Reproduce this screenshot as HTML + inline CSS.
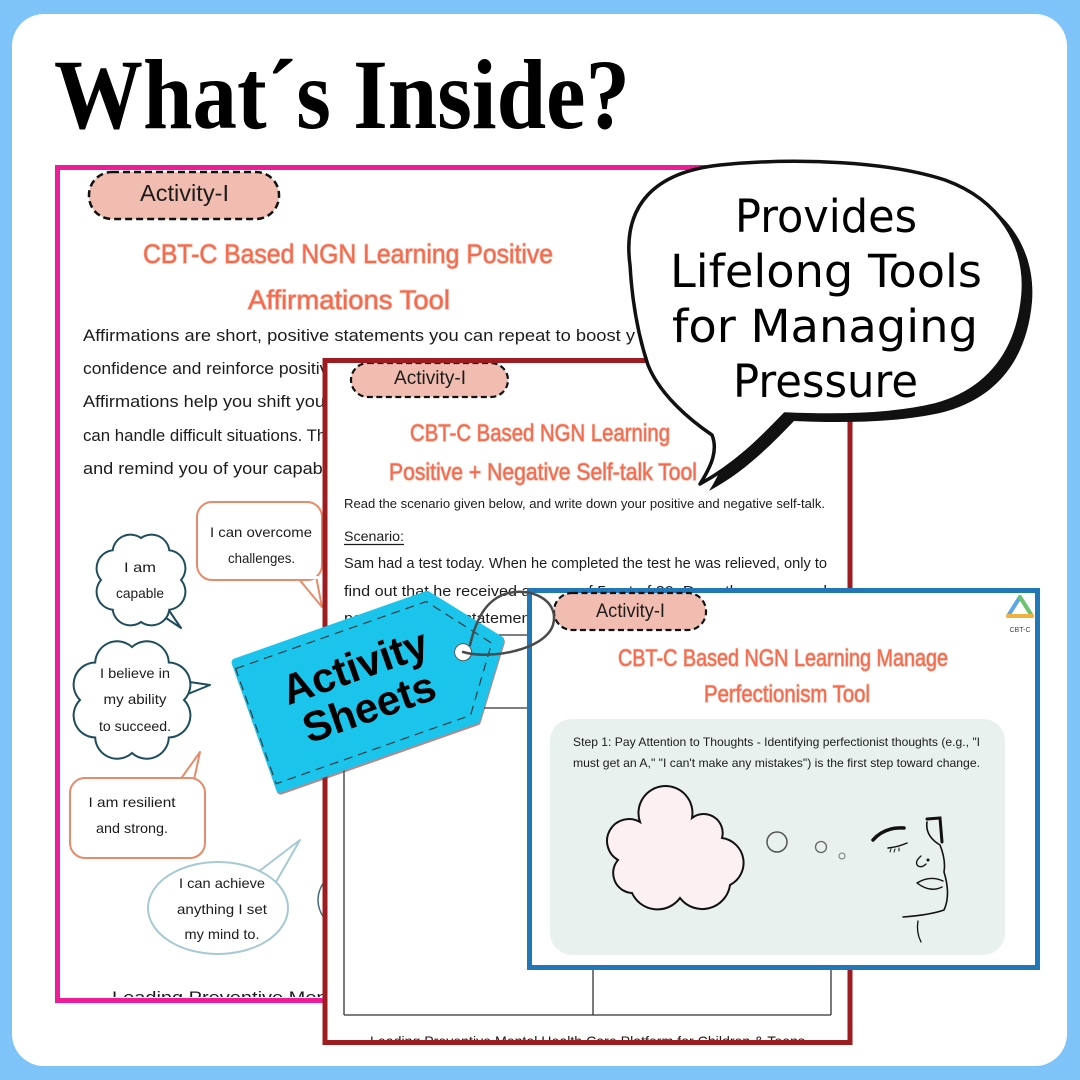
<!DOCTYPE html>
<html><head><meta charset="utf-8">
<style>
html,body{margin:0;padding:0;background:#7fc4f8;}
svg{display:block;}
.sh{font-family:"Liberation Sans",sans-serif;fill:#1c1c1c;}
.tt{font-family:"Liberation Sans",sans-serif;fill:#f26b4e;stroke:#f9b7a6;stroke-width:1.4;paint-order:stroke;}
</style></head>
<body>
<svg width="1080" height="1080" viewBox="0 0 1080 1080" xmlns="http://www.w3.org/2000/svg">
<defs>
<clipPath id="cpPink"><rect x="60" y="170" width="690" height="827"/></clipPath>
<clipPath id="cpRed"><rect x="327" y="363" width="521" height="677"/></clipPath>
</defs>
<rect x="0" y="0" width="1080" height="1080" fill="#7fc4f8"/>
<rect x="12" y="14" width="1055" height="1052" rx="32" fill="#ffffff"/>

<!-- Title -->
<text transform="translate(54,128) scale(0.89,1)" x="0" y="0" font-family="'Liberation Serif',serif" font-weight="bold" font-size="100" fill="#000">What´s Inside?</text>

<!-- ============ PINK SHEET ============ -->
<rect x="57.5" y="167.5" width="700" height="833" fill="#fff"/>
<g clip-path="url(#cpPink)">
  <rect x="89" y="172" width="190" height="47" rx="23" fill="#f2bdb1" stroke="#111" stroke-width="2.5" stroke-dasharray="7 4"/>
  <text class="sh" x="140" y="201" font-size="23" textLength="89" lengthAdjust="spacingAndGlyphs">Activity-I</text>
  <text class="tt" x="143" y="263" font-size="27" textLength="410" lengthAdjust="spacingAndGlyphs">CBT-C Based NGN Learning Positive</text>
  <text class="tt" x="248" y="309" font-size="27" textLength="202" lengthAdjust="spacingAndGlyphs">Affirmations Tool</text>
  <text class="sh" x="83" y="341" font-size="17" textLength="552" lengthAdjust="spacingAndGlyphs">Affirmations are short, positive statements you can repeat to boost y</text>
  <text class="sh" x="83" y="374" font-size="17" textLength="255" lengthAdjust="spacingAndGlyphs">confidence and reinforce positive</text>
  <text class="sh" x="83" y="407" font-size="17" textLength="248" lengthAdjust="spacingAndGlyphs">Affirmations help you shift your</text>
  <text class="sh" x="83" y="441" font-size="17" textLength="261" lengthAdjust="spacingAndGlyphs">can handle difficult situations. They</text>
  <text class="sh" x="83" y="474" font-size="17" textLength="280" lengthAdjust="spacingAndGlyphs">and remind you of your capabilities</text>

  <!-- cloud 1 -->
  <path d="M166,606 L181,628 L160,614 Z" fill="#fff" stroke="#1e4d5c" stroke-width="2" stroke-linejoin="round"/>
  <path d="M181,580 A18 18 0 0 1 169.3,609.7 A18 18 0 0 1 141,622 A18 18 0 0 1 112.7,609.7 A18 18 0 0 1 101,580 A18 18 0 0 1 112.7,550.3 A18 18 0 0 1 141,538 A18 18 0 0 1 169.3,550.3 A18 18 0 0 1 181,580 Z" fill="#fff" stroke="#1e4d5c" stroke-width="2"/>
  <text class="sh" x="124" y="572" font-size="14" textLength="32" lengthAdjust="spacingAndGlyphs">I am</text>
  <text class="sh" x="116" y="598" font-size="14" textLength="48" lengthAdjust="spacingAndGlyphs">capable</text>

  <!-- orange rect 1 -->
  <path d="M298,578 L322,607 L316,576" fill="#fff" stroke="#e88b6b" stroke-width="2" stroke-linejoin="round"/>
  <rect x="197" y="502" width="125" height="78" rx="15" fill="#fff" stroke="#e88b6b" stroke-width="2"/>
  <rect x="296" y="576" width="22" height="3" fill="#fff"/>
  <text class="sh" x="210" y="537" font-size="14" textLength="102" lengthAdjust="spacingAndGlyphs">I can overcome</text>
  <text class="sh" x="228" y="563" font-size="14" textLength="67" lengthAdjust="spacingAndGlyphs">challenges.</text>

  <!-- cloud 2 -->
  <path d="M176,680 L210,685 L178,698 Z" fill="#fff" stroke="#1e4d5c" stroke-width="2" stroke-linejoin="round"/>
  <path d="M184,700 A22 22 0 0 1 168.8,737.5 A22 22 0 0 1 132,753 A22 22 0 0 1 95.2,737.5 A22 22 0 0 1 80,700 A22 22 0 0 1 95.2,662.5 A22 22 0 0 1 132,647 A22 22 0 0 1 168.8,662.5 A22 22 0 0 1 184,700 Z" fill="#fff" stroke="#1e4d5c" stroke-width="2"/>
  <text class="sh" x="100" y="678" font-size="14" textLength="70" lengthAdjust="spacingAndGlyphs">I believe in</text>
  <text class="sh" x="103.5" y="704" font-size="14" textLength="63" lengthAdjust="spacingAndGlyphs">my ability</text>
  <text class="sh" x="99" y="731" font-size="14" textLength="72" lengthAdjust="spacingAndGlyphs">to succeed.</text>

  <!-- orange rect 2 -->
  <path d="M180,780 L200,752 L194,780" fill="#fff" stroke="#e88b6b" stroke-width="2" stroke-linejoin="round"/>
  <rect x="70" y="778" width="135" height="80" rx="15" fill="#fff" stroke="#e88b6b" stroke-width="2"/>
  <rect x="182" y="779" width="11" height="3" fill="#fff"/>
  <text class="sh" x="88.5" y="807" font-size="14" textLength="87" lengthAdjust="spacingAndGlyphs">I am resilient</text>
  <text class="sh" x="96" y="833" font-size="14" textLength="72" lengthAdjust="spacingAndGlyphs">and strong.</text>

  <!-- ellipse -->
  <path d="M258,872 L300,840 L276,882" fill="#fff" stroke="#a6cad4" stroke-width="2" stroke-linejoin="round"/>
  <ellipse cx="218" cy="908" rx="70" ry="46" fill="#fff" stroke="#a6cad4" stroke-width="2"/>
  <text class="sh" x="179" y="888" font-size="14" textLength="86" lengthAdjust="spacingAndGlyphs">I can achieve</text>
  <text class="sh" x="177" y="914" font-size="14" textLength="90" lengthAdjust="spacingAndGlyphs">anything I set</text>
  <text class="sh" x="184.5" y="939" font-size="14" textLength="75" lengthAdjust="spacingAndGlyphs">my mind to.</text>

  <ellipse cx="400" cy="900" rx="82" ry="48" fill="none" stroke="#3d6d7a" stroke-width="1.5"/>
  <text class="sh" x="112" y="1003" font-size="17" textLength="300" lengthAdjust="spacingAndGlyphs">Leading Preventive Mental Health</text>
</g>
<rect x="57.5" y="167.5" width="700" height="833" fill="none" stroke="#ee1c96" stroke-width="5"/>

<!-- ============ RED SHEET ============ -->
<rect x="325" y="360.5" width="525" height="682" fill="#fff"/>
<g clip-path="url(#cpRed)">
  <rect x="351" y="363" width="157" height="34" rx="17" fill="#f2bdb1" stroke="#111" stroke-width="2.2" stroke-dasharray="6 3.5"/>
  <text class="sh" x="394" y="384" font-size="19" textLength="72" lengthAdjust="spacingAndGlyphs">Activity-I</text>
  <text class="tt" x="410" y="441" font-size="24" textLength="260" lengthAdjust="spacingAndGlyphs">CBT-C Based NGN Learning</text>
  <text class="tt" x="389" y="480" font-size="24" textLength="308" lengthAdjust="spacingAndGlyphs">Positive + Negative Self-talk Tool</text>
  <text class="sh" x="344" y="508" font-size="12.5" textLength="481" lengthAdjust="spacingAndGlyphs">Read the scenario given below, and write down your positive and negative self-talk.</text>
  <text class="sh" x="344" y="541" font-size="14" textLength="60" lengthAdjust="spacingAndGlyphs">Scenario:</text>
  <line x1="344" y1="544.5" x2="404" y2="544.5" stroke="#1c1c1c" stroke-width="1.2"/>
  <text class="sh" x="344" y="568" font-size="15" textLength="483" lengthAdjust="spacingAndGlyphs">Sam had a test today. When he completed the test he was relieved, only to</text>
  <text class="sh" x="344" y="596" font-size="15" textLength="483" lengthAdjust="spacingAndGlyphs">find out that he received a score of 5 out of 20. Draw the scene and</text>
  <text class="sh" x="344" y="623" font-size="15" textLength="191" lengthAdjust="spacingAndGlyphs">positive self-talk statement</text>
  <g stroke="#333" stroke-width="1.3" fill="none">
    <line x1="344" y1="635" x2="831" y2="635"/>
    <line x1="344" y1="708" x2="831" y2="708"/>
    <line x1="344" y1="635" x2="344" y2="1015"/>
    <line x1="593" y1="708" x2="593" y2="1015"/>
    <line x1="831" y1="635" x2="831" y2="1015"/>
    <line x1="344" y1="1015" x2="831" y2="1015"/>
  </g>
  <text class="sh" x="370" y="1046" font-size="14" textLength="435" lengthAdjust="spacingAndGlyphs">Leading Preventive Mental Health Care Platform for Children &amp; Teens</text>
</g>
<rect x="325" y="360.5" width="525" height="682" fill="none" stroke="#9c1c20" stroke-width="5"/>

<!-- ============ BLUE SHEET ============ -->
<rect x="529.5" y="590.5" width="508" height="377" fill="#fff" stroke="#2277b7" stroke-width="5"/>
<rect x="554" y="593" width="152" height="37" rx="18" fill="#f2bdb1" stroke="#111" stroke-width="2.2" stroke-dasharray="6 3.5"/>
<text class="sh" x="596" y="617" font-size="19" textLength="69" lengthAdjust="spacingAndGlyphs">Activity-I</text>
<!-- logo -->
<g stroke-width="4" stroke-linecap="round" fill="none">
  <line x1="1020" y1="597" x2="1008" y2="616" stroke="#5aa6e6"/>
  <line x1="1020" y1="597" x2="1032" y2="616" stroke="#6cc46c"/>
  <line x1="1008" y1="616" x2="1032" y2="616" stroke="#f2b23c"/>
</g>
<text x="1020" y="632" font-family="'Liberation Sans',sans-serif" font-size="7" fill="#444" text-anchor="middle">CBT-C</text>
<text class="tt" x="618" y="666" font-size="24" textLength="330" lengthAdjust="spacingAndGlyphs">CBT-C Based NGN Learning Manage</text>
<text class="tt" x="704" y="702" font-size="24" textLength="166" lengthAdjust="spacingAndGlyphs">Perfectionism Tool</text>
<rect x="550" y="719" width="455" height="236" rx="22" fill="#e8f1ee"/>
<text class="sh" x="573" y="746" font-size="12" textLength="407" lengthAdjust="spacingAndGlyphs">Step 1: Pay Attention to Thoughts - Identifying perfectionist thoughts (e.g., "I</text>
<text class="sh" x="573" y="767" font-size="12" textLength="407" lengthAdjust="spacingAndGlyphs">must get an A," "I can't make any mistakes") is the first step toward change.</text>
<!-- thought cloud -->
<path d="M618,860 A20 20 0 0 1 640,822 A27 27 0 1 1 692,818 A19 19 0 0 1 722,838 A25 25 0 0 1 730,885 A28 28 0 0 1 680,898 A28 28 0 0 1 632,893 A20 20 0 0 1 618,860 Z" fill="#fcf0f2" stroke="#111" stroke-width="2"/>
<circle cx="777" cy="842" r="10" fill="none" stroke="#555" stroke-width="1.5"/>
<circle cx="821" cy="847" r="5.5" fill="none" stroke="#666" stroke-width="1.3"/>
<circle cx="842" cy="856" r="3" fill="none" stroke="#777" stroke-width="1"/>
<!-- face -->
<g fill="none" stroke="#111" stroke-linecap="round">
  <path d="M873,840 Q884,827 904,828" stroke-width="3.5"/>
  <path d="M888,848 Q898,847 907,843" stroke-width="1.5"/>
  <path d="M891,849 l-1,3 M895,849 l-1,3 M899,848 l0,3" stroke-width="1"/>
  <path d="M927,819 L940,818 L942,842" stroke-width="3"/>
  <path d="M927,822 Q925,836 940,845 Q946,860 944,872 Q951,895 944,910 Q930,915 903,917" stroke-width="1.6"/>
  <path d="M921,856 Q914,862 918,866 Q922,868 926,864" stroke-width="1.3"/>
  <circle cx="928" cy="860" r="1" fill="#111"/>
  <path d="M917,883 Q930,875 943,881 M917,883 Q930,893 942,887" stroke-width="1.4"/>
  <path d="M918,921 Q916,932 921,942" stroke-width="1.3"/>
</g>

<!-- ============ TAG ============ -->
<g transform="translate(228,665) rotate(-19.4)">
  <path d="M8,2 L211,2 L265,69 L216,136 L8,136 Z" fill="#8a3a3a" opacity="0.6" stroke="#8a3a3a" stroke-width="8" stroke-linejoin="round"/>
  <path d="M8,0 L211,0 L265,67 L216,134 L8,134 Z" fill="#1bc4ea" stroke="#1bc4ea" stroke-width="8" stroke-linejoin="round"/>
  <path d="M6,6 L208,6 L256,67 L212,128 L6,128 Z" fill="none" stroke="#2a3a40" stroke-width="1.2" stroke-dasharray="9 6"/>
  <circle cx="226" cy="66" r="8.5" fill="#fff" stroke="#555" stroke-width="1"/>
  <text x="119" y="58" font-family="'Liberation Sans',sans-serif" font-weight="bold" font-size="42" fill="#000" text-anchor="middle">Activity</text>
  <text x="119" y="101" font-family="'Liberation Sans',sans-serif" font-weight="bold" font-size="42" fill="#000" text-anchor="middle">Sheets</text>
</g>
<path d="M463,652 C490,660 545,650 553,625 C560,600 530,586 505,594 C485,601 476,620 470,645" fill="none" stroke="#4a4a4a" stroke-width="2.5" stroke-linecap="round"/>

<!-- ============ SPEECH BUBBLE ============ -->
<path transform="translate(9,7)" d="M630,265 C622,205 655,172 720,165 C800,157 890,162 945,180 C1000,200 1027,245 1023,295 C1018,350 990,390 935,405 C890,416 830,416 785,414 C760,440 735,465 700,484 C712,465 718,450 712,435 C690,420 660,395 648,365 C638,335 632,300 630,265 Z" fill="#111"/>
<path d="M630,265 C622,205 655,172 720,165 C800,157 890,162 945,180 C1000,200 1027,245 1023,295 C1018,350 990,390 935,405 C890,416 830,416 785,414 C760,440 735,465 700,484 C712,465 718,450 712,435 C690,420 660,395 648,365 C638,335 632,300 630,265 Z" fill="#fff" stroke="#111" stroke-width="3.5" stroke-linejoin="round"/>
<g font-family="'DejaVu Sans',sans-serif" font-size="45" fill="#000">
  <text x="735" y="232" textLength="182" lengthAdjust="spacingAndGlyphs">Provides</text>
  <text x="670" y="287" textLength="312" lengthAdjust="spacingAndGlyphs">Lifelong Tools</text>
  <text x="672" y="342" textLength="306" lengthAdjust="spacingAndGlyphs">for Managing</text>
  <text x="733" y="397" textLength="185" lengthAdjust="spacingAndGlyphs">Pressure</text>
</g>
</svg>
</body></html>
